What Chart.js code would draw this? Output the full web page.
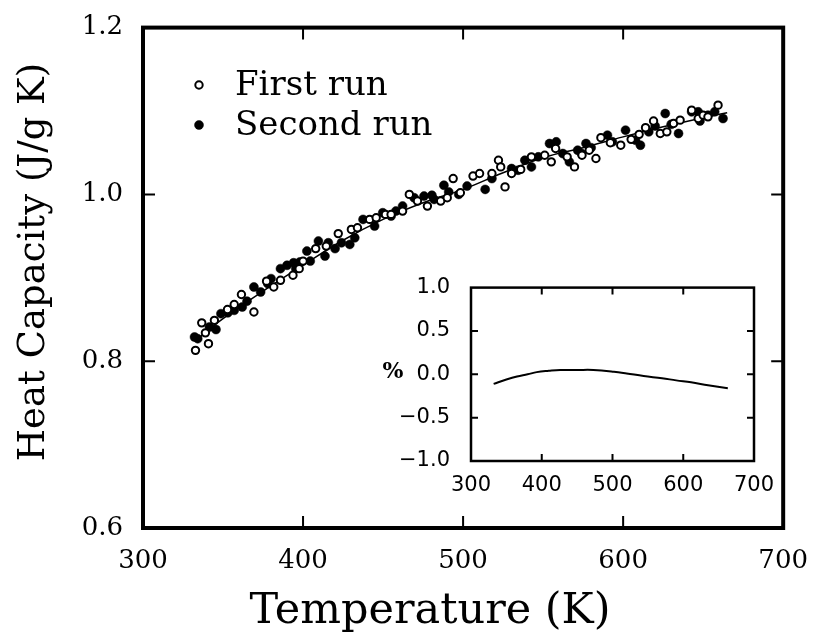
<!DOCTYPE html>
<html><head><meta charset="utf-8">
<script src="https://cdn.jsdelivr.net/npm/chart.js@4.4.0/dist/chart.umd.min.js"></script>
<style>
html,body{margin:0;padding:0;background:#fff;}
#wrap{position:relative;width:818px;height:643px;background:#fff;}
#main{position:absolute;left:0;top:0;}
#inset{position:absolute;left:370px;top:262px;}
</style></head><body>
<div id="wrap"><canvas id="main" width="818" height="643"></canvas><canvas id="inset" width="420" height="240"></canvas></div>
<script>
// ---- data ----
const firstRunT = [332.8,336.7,339,340.9,344.6,352.8,357,361.5,369.3,377.2,381.7,385.9,393.7,397.6,400,407.9,414.5,422,430.2,434,441.6,445.7,451.5,455,462.2,466.4,471.5,477.7,486,490.1,493.8,498.3,506.2,510.3,518,522.1,523.5,526.2,530.3,536,542.7,551,555.1,557.8,565,569.6,574.3,578.8,583,586.1,592,598.5,605,610,614,619,623.2,627.3,631.5,635.6,642.8,646.9,650,653,659.3];
const firstRunC = [0.813,0.846,0.834,0.821,0.849,0.862,0.868,0.880,0.859,0.896,0.889,0.897,0.903,0.911,0.920,0.935,0.938,0.953,0.958,0.960,0.970,0.972,0.976,0.976,0.980,1.000,0.992,0.986,0.992,0.996,1.019,1.002,1.022,1.025,1.025,1.041,1.033,1.009,1.025,1.030,1.045,1.047,1.039,1.055,1.045,1.033,1.047,1.053,1.043,1.068,1.062,1.059,1.066,1.072,1.080,1.088,1.073,1.075,1.085,1.089,1.101,1.091,1.095,1.093,1.107];
const secondRunT = [332.2,334.2,341.5,345.6,348.7,353,357,362,365,369.3,373.5,378,380,385.9,390,394.1,395.5,398,402.4,404.5,409.6,413.7,415.8,420,424,429.2,432.3,437.5,444.7,449.8,455,458,462.2,469.4,475.6,480.5,481.9,488,491,497.3,502.5,513.8,518,530.3,534.4,538.6,542.7,547,554,558.2,562.3,566.4,571.6,574,576.8,580,590.2,593.3,601.5,607.7,610.8,616,620,626.3,630,634.6,642.8,646.9,648,653,657.2,662.4];
const secondRunC = [0.829,0.827,0.841,0.838,0.857,0.858,0.861,0.865,0.872,0.889,0.883,0.893,0.899,0.911,0.915,0.918,0.911,0.919,0.932,0.920,0.944,0.926,0.942,0.935,0.942,0.940,0.948,0.970,0.962,0.978,0.974,0.980,0.986,0.996,0.998,0.999,0.994,1.011,1.003,1.000,1.010,1.006,1.019,1.031,1.029,1.041,1.033,1.045,1.061,1.063,1.049,1.039,1.053,1.049,1.061,1.056,1.071,1.063,1.077,1.065,1.059,1.075,1.082,1.097,1.084,1.073,1.099,1.099,1.088,1.095,1.099,1.091];
const fitT = [335,350,375,400,425,450,475,500,525,550,575,600,625,650,665];
const fitC = [0.828,0.851,0.884,0.915,0.945,0.970,0.990,1.006,1.026,1.044,1.056,1.069,1.081,1.092,1.098];
const insetT = [332,350,365,380,393,410,426,450,473,502,520,544,570,590,611,635,663];
const insetPct = [-0.11,-0.06,-0.025,0,0.025,0.04,0.05,0.05,0.05,0.03,0.01,-0.02,-0.045,-0.07,-0.093,-0.125,-0.16];
const xTickValues = [300,400,500,600,700];
const yTickValues = [0.6,0.8,1.0,1.2];
const insetXTickValues = [300,400,500,600,700];
const insetYTickValues = [-1.0,-0.5,0.0,0.5,1.0];
const seriesNames = ['First run','Second run'];
const xTitle = 'Temperature (K)';
const yTitle = 'Heat Capacity (J/g K)';
const insetYTitle = '%';

const pts = (xs, ys) => xs.map((x, i) => ({x, y: ys[i]}));
const SERIF = '"DejaVu Serif", "Liberation Serif", serif';
const SANS = '"DejaVu Sans", "Liberation Sans", sans-serif';

function frameTicks(id, lw, tickLen, tickW) {
  return {
    id,
    afterDraw(chart) {
      const {ctx, chartArea: a, scales: {x, y}} = chart;
      ctx.save();
      ctx.strokeStyle = '#000';
      ctx.lineWidth = tickW;
      ctx.beginPath();
      x.ticks.forEach(t => {
        if (t.value <= x.min || t.value >= x.max) return;
        const p = x.getPixelForValue(t.value);
        ctx.moveTo(p, a.bottom); ctx.lineTo(p, a.bottom - tickLen);
        ctx.moveTo(p, a.top); ctx.lineTo(p, a.top + tickLen);
      });
      y.ticks.forEach(t => {
        if (t.value <= y.min + 1e-9 || t.value >= y.max - 1e-9) return;
        const p = y.getPixelForValue(t.value);
        ctx.moveTo(a.left, p); ctx.lineTo(a.left + tickLen, p);
        ctx.moveTo(a.right, p); ctx.lineTo(a.right - tickLen, p);
      });
      ctx.stroke();
      ctx.lineWidth = lw;
      ctx.lineJoin = 'miter';
      ctx.strokeRect(a.left, a.top, a.right - a.left, a.bottom - a.top);
      ctx.restore();
    }
  };
}

const mainDecor = {
  id: 'mainDecor',
  afterDraw(chart) {
    const ctx = chart.ctx;
    ctx.save();
    ctx.fillStyle = '#000';
    ctx.textAlign = 'center';
    ctx.textBaseline = 'middle';
    ctx.font = '43px ' + SERIF;
    ctx.fillText(xTitle, 430, 612);
    ctx.save();
    ctx.translate(34, 262);
    ctx.rotate(-Math.PI / 2);
    ctx.font = '37px ' + SERIF;
    ctx.fillText(yTitle, 0, 0);
    ctx.restore();
    // legend
    const rows = [85, 125];
    [0, 1].forEach((di, k) => {
      const ds = chart.data.datasets[di];
      ctx.beginPath();
      ctx.arc(199, rows[k], ds.pointRadius, 0, Math.PI * 2);
      ctx.fillStyle = ds.pointBackgroundColor;
      ctx.fill();
      ctx.lineWidth = ds.pointBorderWidth;
      ctx.strokeStyle = ds.pointBorderColor;
      ctx.stroke();
      ctx.fillStyle = '#000';
      ctx.textAlign = 'left';
      ctx.font = '34px ' + SERIF;
      ctx.fillText(ds.label, 235, rows[k] + 1);
    });
    ctx.restore();
  }
};

new Chart(document.getElementById('main'), {
  type: 'scatter',
  data: {
    datasets: [
      {label: seriesNames[0], data: pts(firstRunT, firstRunC), pointRadius: 3.7, pointBorderWidth: 2,
       pointBackgroundColor: '#fff', pointBorderColor: '#000', showLine: false, order: 0},
      {label: seriesNames[1], data: pts(secondRunT, secondRunC), pointRadius: 4.5, pointBorderWidth: 0.5,
       pointBackgroundColor: '#000', pointBorderColor: '#000', showLine: false, order: 1},
      {label: 'fit', data: pts(fitT, fitC), showLine: true, pointRadius: 0, borderColor: '#000',
       borderWidth: 1.5, tension: 0.4, order: 2}
    ]
  },
  options: {
    responsive: false, animation: false, devicePixelRatio: 1,
    layout: {padding: {left: 0, top: 23, right: 29, bottom: 0}},
    plugins: {legend: {display: false}, tooltip: {enabled: false}},
    scales: {
      x: {
        type: 'linear', min: 300, max: 700,
        grid: {display: false}, border: {display: false},
        afterBuildTicks: s => { s.ticks = xTickValues.map(v => ({value: v})); },
        afterFit: s => { s.height = 115; },
        ticks: {color: '#000', font: {family: SERIF, size: 26}, padding: 10, maxRotation: 0, autoSkip: false,
                callback: v => String(v)}
      },
      y: {
        type: 'linear', min: 0.6, max: 1.2,
        grid: {display: false}, border: {display: false},
        afterBuildTicks: s => { s.ticks = yTickValues.map(v => ({value: v})); },
        afterFit: s => { s.width = 143; },
        ticks: {color: '#000', font: {family: SERIF, size: 26}, padding: 12, autoSkip: false,
                callback: v => Number(v).toFixed(1)}
      }
    }
  },
  plugins: [frameTicks('mainFrame', 4, 12, 2), mainDecor]
});

const insetDecor = {
  id: 'insetDecor',
  afterDraw(chart) {
    const ctx = chart.ctx;
    ctx.save();
    ctx.fillStyle = '#000';
    ctx.textAlign = 'center';
    ctx.textBaseline = 'middle';
    ctx.font = 'bold 22px ' + SERIF;
    ctx.fillText(insetYTitle, 23, 110);
    ctx.restore();
  }
};

new Chart(document.getElementById('inset'), {
  type: 'scatter',
  data: {
    datasets: [
      {label: 'deviation', data: pts(insetT, insetPct), showLine: true, pointRadius: 0,
       borderColor: '#000', borderWidth: 2, tension: 0.4}
    ]
  },
  options: {
    responsive: false, animation: false, devicePixelRatio: 1,
    layout: {padding: {left: 0, top: 20, right: 36, bottom: 0}},
    plugins: {legend: {display: false}, tooltip: {enabled: false}},
    scales: {
      x: {
        type: 'linear', min: 300, max: 700,
        grid: {display: false}, border: {display: false},
        afterBuildTicks: s => { s.ticks = insetXTickValues.map(v => ({value: v})); },
        afterFit: s => { s.height = 41; },
        ticks: {color: '#000', font: {family: SANS, size: 21}, padding: 4, maxRotation: 0, autoSkip: false,
                callback: v => String(v)}
      },
      y: {
        type: 'linear', min: -1, max: 1,
        grid: {display: false}, border: {display: false},
        afterBuildTicks: s => { s.ticks = insetYTickValues.map(v => ({value: v})); },
        afterFit: s => { s.width = 101; },
        ticks: {color: '#000', font: {family: SANS, size: 21}, padding: 13, autoSkip: false,
                callback: v => (v < 0 ? '\u2212' : '') + Math.abs(Number(v)).toFixed(1)}
      }
    }
  },
  plugins: [frameTicks('insetFrame', 2.5, 7, 2), insetDecor]
});
</script>
</body></html>
